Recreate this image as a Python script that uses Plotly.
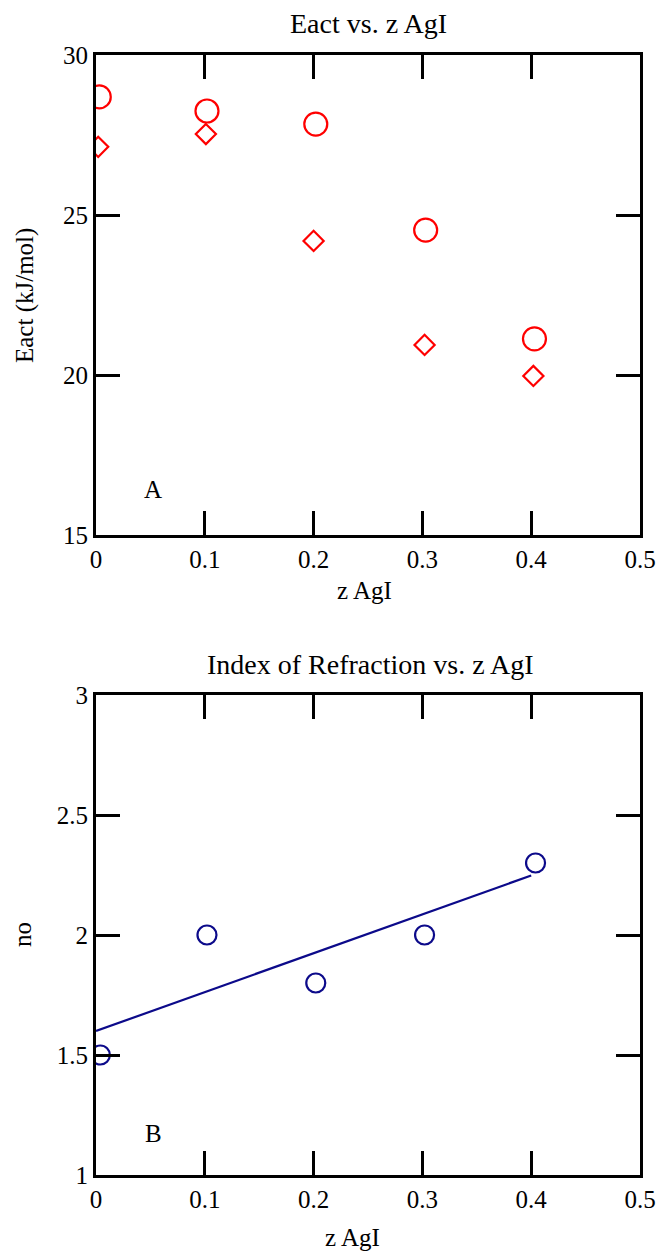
import plotly.graph_objects as go

# Data
z_circle = [0.003, 0.102, 0.202, 0.303, 0.403]
z_diamond = [0.002, 0.101, 0.200, 0.302, 0.402]
eact_circle = [28.69, 28.25, 27.84, 24.53, 21.13]
eact_diamond = [27.13, 27.53, 24.19, 20.94, 19.97]

z_no = [0.004, 0.102, 0.202, 0.302, 0.404]
no_pts = [1.50, 2.00, 1.80, 2.00, 2.30]
fit_x = [0.0, 0.1, 0.2, 0.3, 0.4]
fit_y = [1.60, 1.762, 1.924, 2.086, 2.248]

RED = "#ff0000"
NAVY = "#0c0a8a"
FONT = "Liberation Serif, Times New Roman, serif"

fig = go.Figure()
fig.add_trace(go.Scatter(x=z_circle, y=eact_circle, mode="markers",
                         marker=dict(symbol="circle-open", size=23, color=RED, line=dict(width=2.2, color=RED)),
                         xaxis="x", yaxis="y", showlegend=False))
fig.add_trace(go.Scatter(x=z_diamond, y=eact_diamond, mode="markers",
                         marker=dict(symbol="diamond-open", size=15.5, color=RED, line=dict(width=2.2, color=RED)),
                         xaxis="x", yaxis="y", showlegend=False))
fig.add_trace(go.Scatter(x=fit_x, y=fit_y, mode="lines",
                         line=dict(color=NAVY, width=2.2),
                         xaxis="x2", yaxis="y2", showlegend=False))
fig.add_trace(go.Scatter(x=z_no, y=no_pts, mode="markers",
                         marker=dict(symbol="circle-open", size=19, color=NAVY, line=dict(width=2.2, color=NAVY)),
                         xaxis="x2", yaxis="y2", showlegend=False))

W, H = 657, 1253
xd = [96 / W, 640 / W]
y1d = [1 - 535 / H, 1 - 55 / H]
y2d = [1 - 1175 / H, 1 - 695 / H]

axis_common = dict(showline=True, linewidth=3, linecolor="black", mirror="ticks",
                   ticks="inside", ticklen=24, tickwidth=2.5, tickcolor="black",
                   showgrid=False, zeroline=False, automargin=False,
                   tickfont=dict(family=FONT, size=25, color="black"))

fig.update_layout(
    width=W, height=H,
    margin=dict(l=0, r=0, t=0, b=0, pad=0),
    paper_bgcolor="white", plot_bgcolor="white",
    font=dict(family=FONT, color="black"),
    xaxis=dict(domain=xd, anchor="y", range=[0, 0.5], dtick=0.1, tick0=0, **axis_common),
    yaxis=dict(domain=y1d, anchor="x", range=[15, 30], dtick=5, tick0=15, **axis_common),
    xaxis2=dict(domain=xd, anchor="y2", range=[0, 0.5], dtick=0.1, tick0=0, **axis_common),
    yaxis2=dict(domain=y2d, anchor="x2", range=[1, 3], dtick=0.5, tick0=1, **axis_common),
)

def ann(text, x, y, size=25, angle=0):
    fig.add_annotation(text=text, x=x / W, y=1 - y / H, xref="paper", yref="paper",
                       showarrow=False, textangle=angle,
                       font=dict(family=FONT, size=size, color="black"),
                       xanchor="center", yanchor="middle")

ann("Eact vs. z AgI", 368, 23, size=28)
ann("z AgI", 364, 590, size=25)
ann("Eact (kJ/mol)", 25, 296, size=25, angle=-90)
ann("A", 153, 490, size=25)

ann("Index of Refraction vs. z AgI", 370, 664, size=28)
ann("z AgI", 352, 1237, size=25)
ann("no", 22, 935, size=25, angle=-90)
ann("B", 153, 1133, size=25)

fig.write_html("out.html")
